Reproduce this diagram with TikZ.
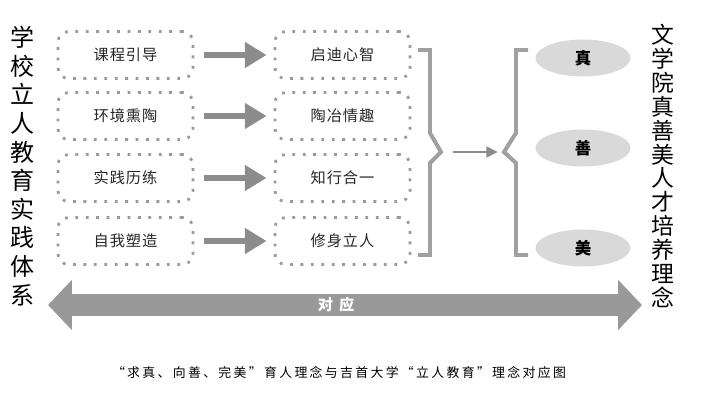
\documentclass[tikz,border=0pt]{standalone}
\usepackage{fontspec}
\newfontfamily\cjk{Noto Sans CJK SC}
\usepackage{xcolor}
\usetikzlibrary{positioning,shapes,arrows.meta,calc}

\definecolor{dotgray}{HTML}{9A9A9A}
\definecolor{arrgray}{HTML}{8C8C8C}
\definecolor{bragray}{HTML}{A0A0A0}
\definecolor{ellgray}{HTML}{D9D9D9}

\tikzset{
  dotbox/.style={draw=dotgray, line width=2.4pt, dash pattern=on 2.4pt off 6.5pt,
    rounded corners=9pt, minimum width=4.05cm, minimum height=1.41cm,
    font=\cjk\fontsize{13}{15}\selectfont\addfontfeature{LetterSpace=6}, text=black!85},
  fatarrow/.style={draw=arrgray, line width=5.1pt,
    -{Triangle[length=18.5pt,width=21pt]}, shorten <=0.3cm, shorten >=0.21cm},
  brace/.style={draw=bragray, line width=3.4pt, line cap=butt},
  goal/.style={ellipse, fill=ellgray, minimum width=2.85cm, minimum height=1.11cm,
    font=\cjk\bfseries\fontsize{14}{16}\selectfont}
}

\begin{document}
\begin{tikzpicture}[x=0.03cm, y=-0.03cm]
    \useasboundingbox (0,0) rectangle (702,397);

    % side titles
    \node[align=center, font=\cjk\fontsize{20.5}{24.4}\selectfont] (ltitle) at (23,166)
      {学\\校\\立\\人\\教\\育\\实\\践\\体\\系};
    \node[align=center, font=\cjk\fontsize{19.5}{20.4}\selectfont] (rtitle) at (663,166)
      {文\\学\\院\\真\\善\\美\\人\\才\\培\\养\\理\\念};

    % practice boxes
    \node[dotbox] (l1) at (125.5,55) {课程引导};
    \node[dotbox] (l2) at (125.5,116) {环境熏陶};
    \node[dotbox] (l3) at (125.5,178) {实践历练};
    \node[dotbox] (l4) at (125.5,241) {自我塑造};

    \node[dotbox] (r1) at (342.5,55) {启迪心智};
    \node[dotbox] (r2) at (342.5,116) {陶冶情趣};
    \node[dotbox] (r3) at (342.5,178) {知行合一};
    \node[dotbox] (r4) at (342.5,241) {修身立人};

    \draw[fatarrow] (l1) -- (r1);
    \draw[fatarrow] (l2) -- (r2);
    \draw[fatarrow] (l3) -- (r3);
    \draw[fatarrow] (l4) -- (r4);

    % braces
    \coordinate (jl) at (441,152);
    \coordinate (jr) at (504,152);
    \draw[brace] (418,50) -| (430,133) -- (jl) -- (430,163) |- (418,255);
    \draw[brace] (528,50) -| (516,133) -- (jr) -- (516,163) |- (528,255);
    \draw[draw=arrgray, line width=2.5pt, -{Triangle[length=10pt,width=9pt]},
      shorten <=0.36cm, shorten >=0.18cm] (jl) -- (jr);

    % ideals
    \node[goal] (zhen) at (583,58) {真};
    \node[goal] (shan) at (583,148) {善};
    \node[goal] (mei) at (583,248) {美};

    % correspondence arrow
    \coordinate (bl) at (48,305);
    \coordinate (br) at (642,305);
    \draw[draw=black!40, line width=19.6pt,
      {Triangle[length=20.4pt,width=41.7pt]}-{Triangle[length=20.4pt,width=41.7pt]}] (bl) -- (br)
      node[pos=0.485, text=white, font=\cjk\bfseries\fontsize{13}{15}\selectfont] (dy) {对\hspace{5pt}应};

    % caption
    \node[font=\cjk\fontsize{11}{13}\selectfont\addfontfeature{LetterSpace=18}] (cap) at (339,373)
      {“求真、向善、完美”育人理念与吉首大学“立人教育”理念对应图};
\end{tikzpicture}
\end{document}
